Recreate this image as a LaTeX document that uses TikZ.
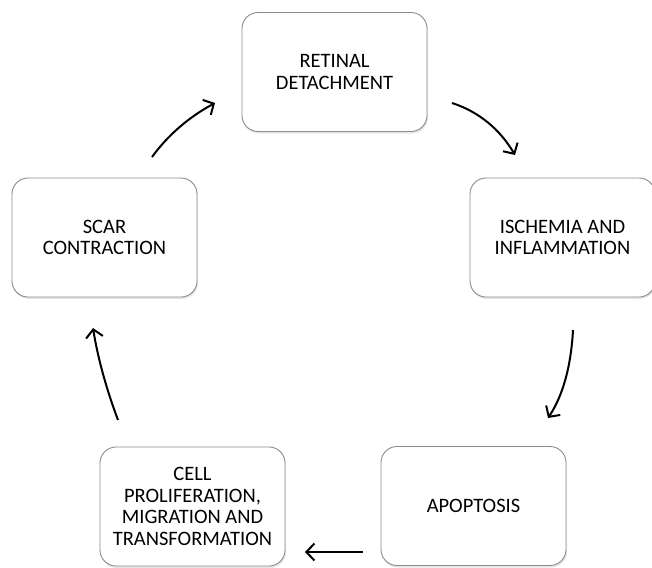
\documentclass[tikz,border=0pt]{standalone}
\usepackage{fontspec}
\setmainfont{Carlito}
\usetikzlibrary{arrows.meta,shadows}
\definecolor{boxline}{HTML}{8C8C8C}
\begin{document}
\begin{tikzpicture}[x=1pt,y=-1pt,
  stagebox/.style={draw=boxline, line width=0.9pt, rounded corners=16pt, fill=white,
    minimum width=185pt, minimum height=119pt, align=center,
    font=\fontsize{20.5}{21.5}\selectfont,
    drop shadow={opacity=0.2, shadow xshift=1pt, shadow yshift=-2pt}},
  arr/.style={line width=2pt, -{Straight Barb[length=8pt,width=17pt,line width=2pt]}}]
\useasboundingbox (0,0) rectangle (652,567);
\node[stagebox] (ret) at (334.5,72) {RETINAL\\DETACHMENT};
\node[stagebox] (isch) at (562.5,237.5) {ISCHEMIA AND\\INFLAMMATION};
\node[stagebox] (apop) at (473.5,506) {APOPTOSIS};
\node[stagebox] (cell) at (192.5,506.5) {CELL\\PROLIFERATION,\\MIGRATION AND\\TRANSFORMATION};
\node[stagebox] (scar) at (104.5,237.5) {SCAR\\CONTRACTION};
\coordinate (s1) at (152,157); \coordinate (e1) at (215,103);
\coordinate (s2) at (452,103); \coordinate (e2) at (515,155);
\coordinate (s3) at (573,330); \coordinate (e3) at (548,418);
\coordinate (s4) at (363,552); \coordinate (e4) at (305,552);
\coordinate (s5) at (118,420); \coordinate (e5) at (93,328);
\draw[arr] (s1) .. controls (168,135) and (189,117) .. (e1);
\draw[arr] (s2) .. controls (478.7,111.7) and (499.7,129) .. (e2);
\draw[arr] (s3) .. controls (571,366.7) and (562.7,396) .. (e3);
\draw[arr] (s4) -- (e4);
\draw[arr] (s5) .. controls (106,388) and (97.7,357.3) .. (e5);
\end{tikzpicture}
\end{document}
